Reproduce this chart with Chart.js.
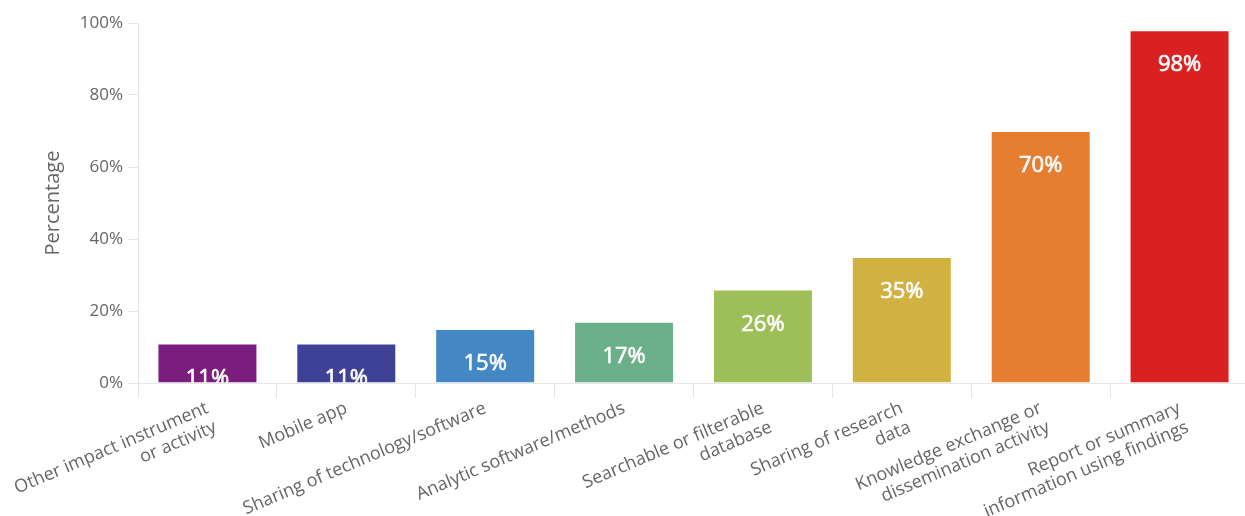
<!DOCTYPE html>
<html>
<head>
<meta charset="utf-8">
<title>Impact instruments</title>
<script src="https://cdn.jsdelivr.net/npm/chart.js@4/dist/chart.umd.min.js"></script>
<style>
  html, body { margin: 0; padding: 0; background: #ffffff; overflow: hidden; }
  #wrap { width: 1249px; height: 516px; position: relative; }
</style>
</head>
<body>
<div id="wrap"><canvas id="chart"></canvas></div>
<script>
// Category labels (each entry is one wrapped label, line by line)
const categories = [
  ['Other impact instrument', 'or activity'],
  ['Mobile app'],
  ['Sharing of technology/software'],
  ['Analytic software/methods'],
  ['Searchable or filterable', 'database'],
  ['Sharing of research', 'data'],
  ['Knowledge exchange or', 'dissemination activity'],
  ['Report or summary', 'information using findings']
];

// Share of responses, in percent
const percentages = [11, 11, 15, 17, 26, 35, 70, 98];

// One colour per bar
const barColors = ['#7a1d7e', '#3f4196', '#4387c4', '#6bb08a', '#9ebe57', '#d1b240', '#e67e32', '#d92121'];

// Y axis ticks
const yTicks = [0, 20, 40, 60, 80, 100];

const FONT = "'Open Sans', 'DejaVu Sans', sans-serif";

// Value labels drawn inside each bar, near its top, clipped to the plot area
const barValueLabels = {
  id: 'barValueLabels',
  afterDatasetsDraw(chart) {
    const { ctx, chartArea } = chart;
    const meta = chart.getDatasetMeta(0);
    ctx.save();
    ctx.beginPath();
    ctx.rect(chartArea.left, chartArea.top, chartArea.right - chartArea.left, chartArea.bottom - chartArea.top);
    ctx.clip();
    ctx.fillStyle = '#fbfbfb';
    ctx.strokeStyle = '#fbfbfb';
    ctx.lineWidth = 0.7;
    ctx.lineJoin = 'round';
    ctx.font = '22px ' + FONT;
    ctx.textAlign = 'center';
    ctx.textBaseline = 'middle';
    meta.data.forEach((bar, i) => {
      const text = percentages[i] + '%';
      ctx.fillText(text, bar.x, bar.y + 35);
      ctx.strokeText(text, bar.x, bar.y + 35);
    });
    ctx.restore();
  }
};

new Chart(document.getElementById('chart'), {
  type: 'bar',
  data: {
    labels: categories,
    datasets: [{
      data: percentages,
      backgroundColor: barColors,
      borderColor: 'rgba(255,255,255,0.45)',
      borderWidth: 1,
      barPercentage: 0.72,
      categoryPercentage: 1
    }]
  },
  options: {
    responsive: true,
    maintainAspectRatio: false,
    animation: false,
    layout: { padding: { top: 23, right: 0, left: 0, bottom: 0 } },
    plugins: {
      legend: { display: false },
      tooltip: { enabled: false }
    },
    scales: {
      x: {
        offset: true,
        grid: {
          offset: true,
          drawOnChartArea: false,
          drawTicks: true,
          tickLength: 15,
          color: '#e6e6e6'
        },
        border: { display: true, color: '#e6e6e6', width: 1 },
        ticks: {
          autoSkip: false,
          minRotation: 23,
          maxRotation: 23,
          padding: 0,
          color: '#666666',
          font: { family: FONT, size: 18, lineHeight: 1.15 }
        },
        afterFit(scale) { scale.height = 133; }
      },
      y: {
        min: 0,
        max: 100,
        afterBuildTicks(scale) { scale.ticks = yTicks.map(v => ({ value: v })); },
        grid: {
          drawOnChartArea: false,
          drawTicks: true,
          tickLength: 10,
          color: '#e6e6e6'
        },
        border: { display: true, color: '#e6e6e6', width: 1 },
        ticks: {
          padding: 5,
          color: '#666666',
          font: { family: FONT, size: 17 },
          callback: v => v + '%'
        },
        title: {
          display: true,
          text: 'Percentage',
          color: '#666666',
          font: { family: FONT, size: 20, lineHeight: 1.2 },
          padding: { top: 41, bottom: 0 }
        },
        afterFit(scale) { scale.width = 138; }
      }
    }
  },
  plugins: [barValueLabels]
});
</script>
</body>
</html>
